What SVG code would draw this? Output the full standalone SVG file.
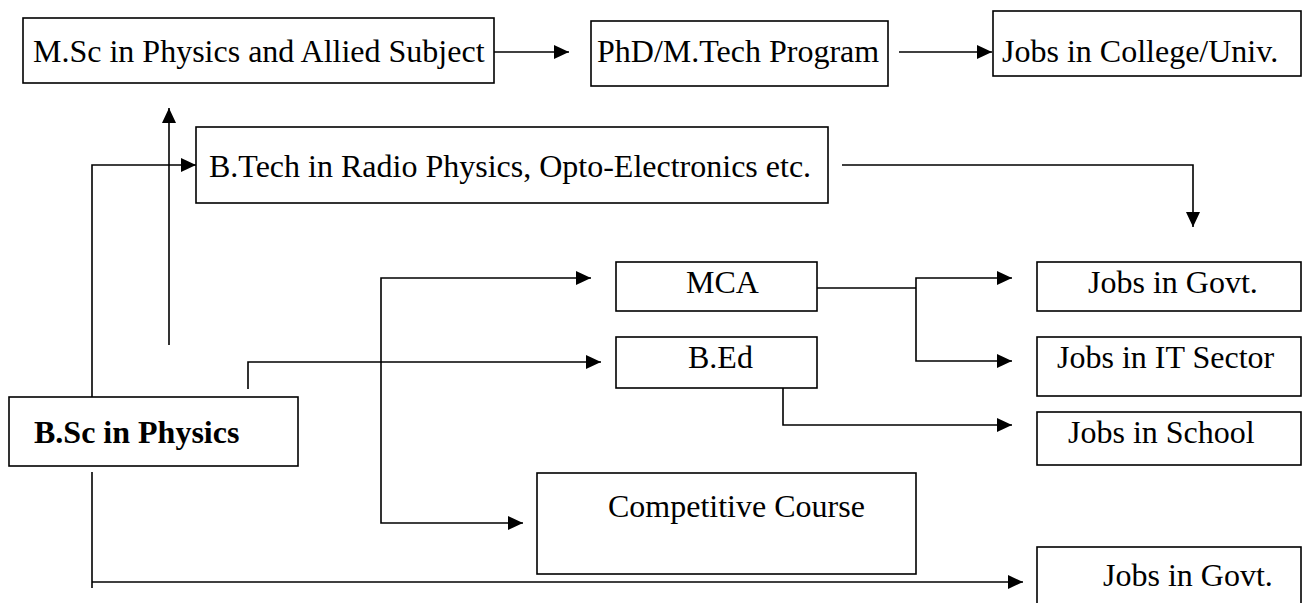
<svg xmlns="http://www.w3.org/2000/svg" width="1302" height="603" viewBox="0 0 1302 603">
<style>
.box{fill:#fff;stroke:#000;stroke-width:1.6}
.t{font-family:"Liberation Serif","Times New Roman",serif;font-size:32px;fill:#000}
.b{font-weight:bold}
.c{fill:none;stroke:#000;stroke-width:1.6}
</style>
<defs>
<marker id="ah" markerUnits="userSpaceOnUse" markerWidth="16" markerHeight="14" refX="15" refY="7" orient="auto">
<path d="M0,0 L15,7 L0,14 z" fill="#000"/>
</marker>
</defs>
<rect width="1302" height="603" fill="#fff"/>
<g id="connectors">
<path class="c" d="M494,52 H569" marker-end="url(#ah)"/>
<path class="c" d="M899,52 H992" marker-end="url(#ah)"/>
<path class="c" d="M169,345 V108" marker-end="url(#ah)"/>
<path class="c" d="M92,397 V165 H196" marker-end="url(#ah)"/>
<path class="c" d="M842,165 H1193 V227" marker-end="url(#ah)"/>
<path class="c" d="M248,389 V362 H601" marker-end="url(#ah)"/>
<path class="c" d="M381,400 V278 H591" marker-end="url(#ah)"/>
<path class="c" d="M381,400 V523 H523" marker-end="url(#ah)"/>
<path class="c" d="M817,288 H916"/>
<path class="c" d="M916,288 V278 H1012" marker-end="url(#ah)"/>
<path class="c" d="M916,288 V361 H1012" marker-end="url(#ah)"/>
<path class="c" d="M783,388 V425 H1012" marker-end="url(#ah)"/>
<path class="c" d="M92,472 V588"/>
<path class="c" d="M92,582 H1023" marker-end="url(#ah)"/>
</g>
<g id="msc"><rect class="box" x="23" y="18" width="471" height="65"/><text class="t" x="33" y="62">M.Sc in Physics and Allied Subject</text></g>
<g id="phd"><rect class="box" x="591" y="21" width="297" height="65"/><text class="t" x="597" y="62">PhD/M.Tech Program</text></g>
<g id="college"><rect class="box" x="993" y="11" width="308" height="65"/><text class="t" x="1002" y="62">Jobs in College/Univ.</text></g>
<g id="btech"><rect class="box" x="196" y="127" width="632" height="76"/><text class="t" x="209" y="177">B.Tech in Radio Physics, Opto-Electronics etc.</text></g>
<g id="bsc"><rect class="box" x="9" y="397" width="289" height="69"/><text class="t b" x="34" y="443">B.Sc in Physics</text></g>
<g id="mca"><rect class="box" x="616" y="262" width="201" height="49"/><text class="t" x="686" y="293">MCA</text></g>
<g id="bed"><rect class="box" x="616" y="337" width="201" height="51"/><text class="t" x="688" y="368">B.Ed</text></g>
<g id="govt1"><rect class="box" x="1037" y="262" width="264" height="49"/><text class="t" x="1088" y="293">Jobs in Govt.</text></g>
<g id="it"><rect class="box" x="1037" y="337" width="264" height="59"/><text class="t" x="1057" y="368">Jobs in IT Sector</text></g>
<g id="school"><rect class="box" x="1037" y="412" width="264" height="53"/><text class="t" x="1068" y="443">Jobs in School</text></g>
<g id="competitive"><rect class="box" x="537" y="473" width="379" height="101"/><text class="t" x="608" y="517">Competitive Course</text></g>
<g id="govt2"><rect class="box" x="1037" y="547" width="264" height="70"/><text class="t" x="1103" y="586">Jobs in Govt.</text></g>
</svg>
